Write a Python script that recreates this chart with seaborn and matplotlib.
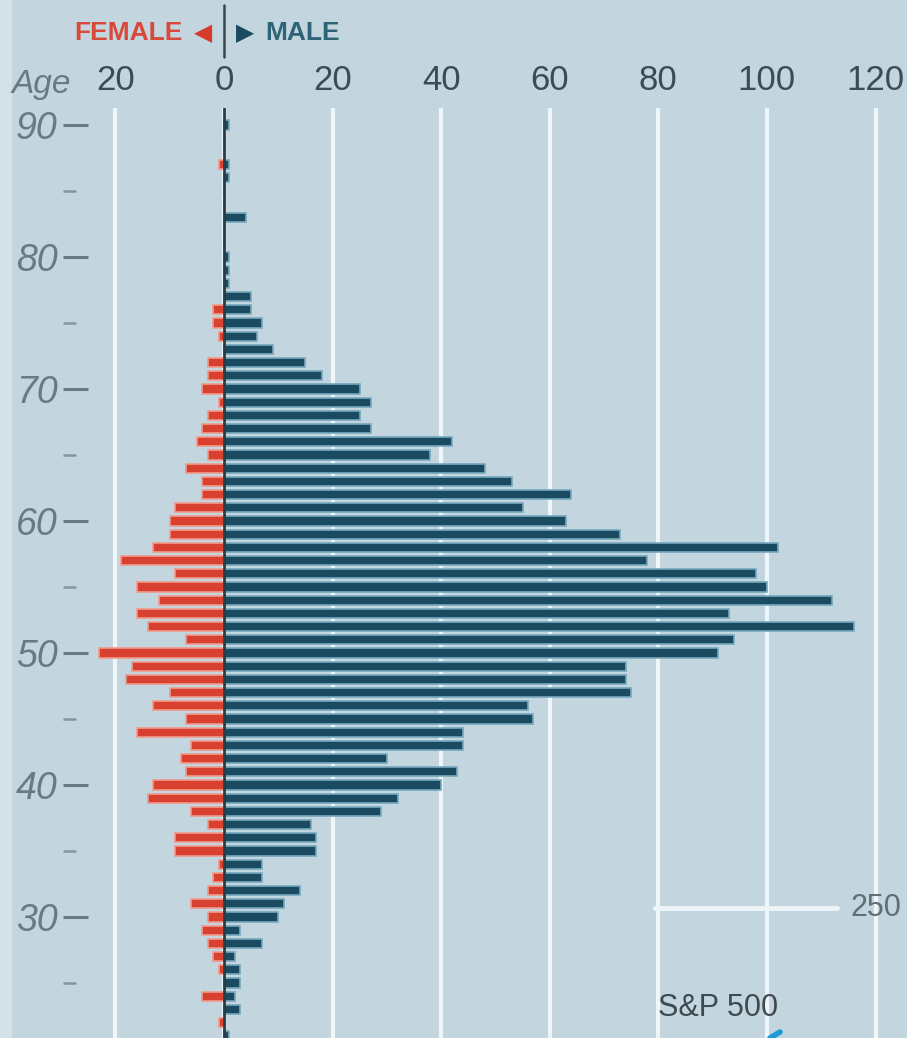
import numpy as np
import pandas as pd
import seaborn as sns
import matplotlib.pyplot as plt
from matplotlib.lines import Line2D
from matplotlib.patches import Rectangle

# Ages from 90 down to 21, one bar per year
ages = list(range(90, 20, -1))

# Female counts (drawn to the left)
female = [0, 0, 0, 1, 0, 0, 0, 0, 0, 0,
          0, 0, 0, 0, 2, 2, 1, 0, 3, 3,
          4, 1, 3, 4, 5, 3, 7, 4, 4, 9,
          10, 10, 13, 19, 9, 16, 12, 16, 14, 7,
          23, 17, 18, 10, 13, 7, 16, 6, 8, 7,
          13, 14, 6, 3, 9, 9, 1, 2, 3, 6,
          3, 4, 3, 2, 1, 0, 4, 0, 1, 0]

# Male counts (drawn to the right)
male = [1, 0, 0, 1, 1, 0, 0, 4, 0, 0,
        1, 1, 1, 5, 5, 7, 6, 9, 15, 18,
        25, 27, 25, 27, 42, 38, 48, 53, 64, 55,
        63, 73, 102, 78, 98, 100, 112, 93, 116, 94,
        91, 74, 74, 75, 56, 57, 44, 44, 30, 43,
        40, 32, 29, 16, 17, 17, 7, 7, 14, 11,
        10, 3, 7, 2, 3, 3, 2, 3, 0, 1]

x_ticks = [-20, 0, 20, 40, 60, 80, 100, 120]
x_labels = ["20", "0", "20", "40", "60", "80", "100", "120"]
y_major = [30, 40, 50, 60, 70, 80, 90]
y_minor = [25, 35, 45, 55, 65, 75, 85]

df = pd.DataFrame({"age": ages, "female": [-v for v in female], "male": male})

BG = "#c3d5de"
RED = "#d8412f"
TEAL = "#1b4b60"

sns.set_theme(style="white")
plt.rcParams["font.family"] = ["Liberation Sans", "DejaVu Sans"]

fig = plt.figure(figsize=(9.07, 10.38), dpi=100, facecolor=BG)
W, H = 907, 1038
ax = fig.add_axes([63 / W, 0, 1 - 63 / W, 1 - 108 / H])
ax.set_facecolor(BG)

# light strip on the far left
fig.add_artist(Rectangle((0, 0), 12 / W, 1, transform=fig.transFigure,
                         facecolor="#d3e2e9", edgecolor="none", zorder=0))

# vertical gridlines
for t in x_ticks:
    ax.axvline(t, color="#eef6f9", lw=3, zorder=0)

sns.barplot(data=df, x="female", y="age", orient="y", native_scale=True,
            width=0.7, color=RED, edgecolor="#f19a8b", linewidth=1.2,
            saturation=1, errorbar=None, ax=ax, zorder=2)
sns.barplot(data=df, x="male", y="age", orient="y", native_scale=True,
            width=0.7, color=TEAL, edgecolor="#76a9bd", linewidth=1.2,
            saturation=1, errorbar=None, ax=ax, zorder=2)

ax.axvline(0, color="#2e3a40", lw=2, zorder=3)

ax.set_xlim(-29.65, 125.8)
ax.set_ylim(20.83, 91.29)
for s in ax.spines.values():
    s.set_visible(False)

ax.xaxis.tick_top()
ax.set_xticks(x_ticks, x_labels)
ax.tick_params(axis="x", length=0, pad=8, labelsize=25, labelcolor="#3d4b52")

ax.set_yticks(y_major)
ax.set_yticks(y_minor, minor=True)
ax.set_yticklabels([str(v) for v in y_major], fontstyle="italic")
ax.tick_params(axis="y", which="major", direction="in", length=18, width=2.2,
               color="#6a7a82", pad=4, labelsize=27, labelcolor="#6a7a82", left=True)
ax.tick_params(axis="y", which="minor", direction="in", length=9.5, width=1.8,
               color="#8797a0", left=True)
ax.set_xlabel("")
ax.set_ylabel("")

# header
fig.text(183 / W, 1 - 33 / H, "FEMALE", ha="right", va="center", fontsize=19,
         fontweight="bold", color="#d9493a")
fig.text(203 / W, 1 - 33 / H, "\u25C0", ha="center", va="center", fontsize=17,
         color="#d63a2a", family="DejaVu Sans")
fig.add_artist(Line2D([224 / W, 224 / W], [1 - 5 / H, 1 - 57 / H],
                      transform=fig.transFigure, color="#3a464c", lw=1.8))
fig.text(245 / W, 1 - 33 / H, "\u25B6", ha="center", va="center", fontsize=17,
         color=TEAL, family="DejaVu Sans")
fig.text(265 / W, 1 - 33 / H, "MALE", ha="left", va="center", fontsize=19,
         fontweight="bold", color="#2d6478")
fig.text(12 / W, 1 - 85 / H, "Age", ha="left", va="center", fontsize=24,
         fontstyle="italic", color="#6a7a82")

# bits of the neighbouring chart in the lower right
fig.add_artist(Line2D([655 / W, 837 / W], [1 - 908 / H, 1 - 908 / H],
                      transform=fig.transFigure, color="#eef6f9", lw=3.5))
fig.text(850 / W, 1 - 908 / H, "250", ha="left", va="center", fontsize=22,
         color="#5f6f77")
fig.text(658 / W, 1 - 1008 / H, "S&P 500", ha="left", va="center", fontsize=22,
         color="#3d4a50")
fig.add_artist(Line2D([770 / W, 780 / W], [1 - 1038 / H, 1 - 1032 / H],
                      transform=fig.transFigure, color="#1e9ad6", lw=4))

fig.savefig("out.png", dpi=100, facecolor=BG)
